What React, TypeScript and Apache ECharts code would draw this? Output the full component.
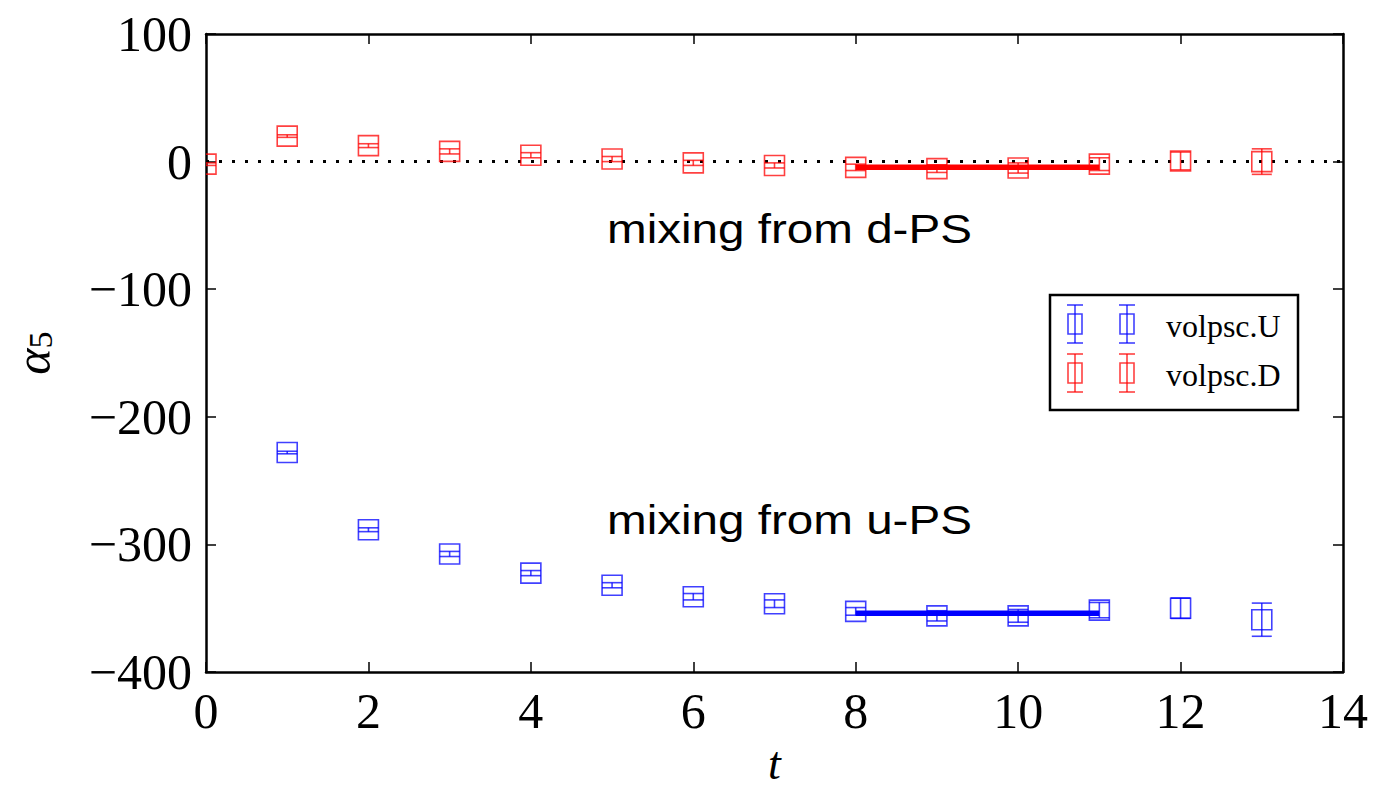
import React, { useEffect, useRef } from "react";
import * as echarts from "echarts";

const tValuesD = [0, 1, 2, 3, 4, 5, 6, 7, 8, 9, 10, 11, 12, 13];
const alphaD = [-2, 20, 12.5, 8, 5, 2, -1, -3, -4.5, -5.5, -5, -2, 0.5, 0];
const errD = [1, 1, 1.5, 2, 2, 2, 2, 2, 2.5, 3, 4, 5, 7, 10];

const tValuesU = [1, 2, 3, 4, 5, 6, 7, 8, 9, 10, 11, 12, 13];
const alphaU = [-228, -288.5, -307.5, -322.5, -332, -341, -346.5, -352.5, -356, -356, -351.5, -350, -359];
const errU = [1, 1.5, 2, 2, 2, 2.5, 3, 3, 4, 5, 6, 8, 13];

const fitRange = [8, 11];
const fitD = -4.5;
const fitU = -354;

const xTicks = { min: 0, max: 14, interval: 2 };
const yTicks = { min: -400, max: 100, interval: 100 };

const legendNames = ["volpsc.U", "volpsc.D"];
const annotations = ["mixing from d-PS", "mixing from u-PS"];

const BLUE = "#0000ff";
const RED = "#ff0000";
const SERIF = "'Liberation Serif', 'DejaVu Serif', serif";
const SANS = "'Liberation Sans', Arial, sans-serif";

function errSeries(name: string, xs: number[], ys: number[], es: number[], color: string) {
  return {
    type: "custom",
    name,
    clip: true,
    z: 3,
    data: xs.map((x, i) => [x, ys[i], es[i]]),
    renderItem: (params: any, api: any) => {
      const x = api.value(0);
      const y = api.value(1);
      const e = api.value(2);
      const c = api.coord([x, y]);
      const top = api.coord([x, y + e]);
      const bot = api.coord([x, y - e]);
      const hw = 10;
      const style = { stroke: color, lineWidth: 1.6, fill: "none", opacity: 0.75 };
      return {
        type: "group",
        children: [
          { type: "rect", shape: { x: c[0] - hw, y: c[1] - hw, width: 2 * hw, height: 2 * hw }, style },
          { type: "line", shape: { x1: c[0], y1: top[1], x2: c[0], y2: bot[1] }, style },
          { type: "line", shape: { x1: c[0] - hw, y1: top[1], x2: c[0] + hw, y2: top[1] }, style },
          { type: "line", shape: { x1: c[0] - hw, y1: bot[1], x2: c[0] + hw, y2: bot[1] }, style },
        ],
      };
    },
  };
}

function legendMarker(cx: number, cy: number, color: string) {
  const style = { stroke: color, lineWidth: 1.6, fill: "none", opacity: 0.75 };
  return {
    type: "group",
    children: [
      { type: "rect", shape: { x: cx - 7, y: cy - 10, width: 14, height: 20 }, style },
      { type: "line", shape: { x1: cx, y1: cy - 19, x2: cx, y2: cy + 19 }, style },
      { type: "line", shape: { x1: cx - 8, y1: cy - 19, x2: cx + 8, y2: cy - 19 }, style },
      { type: "line", shape: { x1: cx - 8, y1: cy + 19, x2: cx + 8, y2: cy + 19 }, style },
    ],
  };
}

const fmtMinus = (v: number) => String(v).replace("-", "\u2212");

export default function App() {
  const ref = useRef<HTMLDivElement>(null);
  useEffect(() => {
    if (!ref.current) return;
    const chart = echarts.init(ref.current, null, { renderer: "svg" });
    const axisLine = { show: true, lineStyle: { color: "#000", width: 2.5 } };
    const axisTick = { show: true, inside: true, length: 10, lineStyle: { color: "#000", width: 1.5 } };
    const option: any = {
      animation: false,
      backgroundColor: "#fff",
      grid: { left: 206, right: 30, top: 34, bottom: 117, containLabel: false, outerBoundsMode: "none" },
      xAxis: [
        {
          type: "value",
          ...xTicks,
          axisLine: { ...axisLine, onZero: false },
          axisTick,
          splitLine: { show: false },
          axisLabel: { fontFamily: SERIF, fontSize: 50, color: "#000", margin: 14 },
          name: "t",
          nameLocation: "middle",
          nameGap: 70,
          nameTextStyle: { fontFamily: SERIF, fontStyle: "italic", fontSize: 46, lineHeight: 40, color: "#000" },
        },
        {
          type: "value",
          position: "top",
          ...xTicks,
          axisLine: { ...axisLine, onZero: false },
          axisTick,
          splitLine: { show: false },
          axisLabel: { show: false },
        },
      ],
      yAxis: [
        {
          type: "value",
          ...yTicks,
          axisLine: { ...axisLine, onZero: false },
          axisTick,
          splitLine: { show: false },
          axisLabel: { fontFamily: SERIF, fontSize: 50, color: "#000", margin: 14, formatter: fmtMinus },
          name: "{a|α}{b|5}",
          nameLocation: "middle",
          nameGap: 154,
          nameRotate: 90,
          nameTextStyle: {
            rich: {
              a: { fontFamily: SERIF, fontStyle: "italic", fontSize: 50, lineHeight: 38, color: "#000" },
              b: { fontFamily: SERIF, fontSize: 34, lineHeight: 22, color: "#000", padding: [14, 0, 0, 0] },
            },
          },
        },
        {
          type: "value",
          position: "right",
          ...yTicks,
          axisLine: { ...axisLine, onZero: false },
          axisTick,
          splitLine: { show: false },
          axisLabel: { show: false },
        },
      ],
      series: [
        {
          type: "line",
          data: [[xTicks.min, 0], [xTicks.max, 0]],
          symbol: "none",
          z: 2,
          lineStyle: { color: "#000", width: 3, type: [3, 10] },
        },
        errSeries(legendNames[0], tValuesU, alphaU, errU, BLUE),
        errSeries(legendNames[1], tValuesD, alphaD, errD, RED),
        {
          type: "line",
          data: [[fitRange[0], fitD], [fitRange[1], fitD]],
          symbol: "none",
          z: 4,
          lineStyle: { color: RED, width: 5.5 },
        },
        {
          type: "line",
          data: [[fitRange[0], fitU], [fitRange[1], fitU]],
          symbol: "none",
          z: 4,
          lineStyle: { color: BLUE, width: 5.5 },
        },
      ],
      graphic: [
        {
          type: "text",
          x: 607,
          y: 229,
          scaleX: 1.19,
          style: { text: annotations[0], font: `40px ${SANS}`, fill: "#000", textVerticalAlign: "middle" },
        },
        {
          type: "text",
          x: 607,
          y: 520,
          scaleX: 1.19,
          style: { text: annotations[1], font: `40px ${SANS}`, fill: "#000", textVerticalAlign: "middle" },
        },
        {
          type: "group",
          children: [
            { type: "rect", shape: { x: 1050, y: 295, width: 248, height: 115 }, style: { fill: "#fff", stroke: "#000", lineWidth: 2.5 } },
            legendMarker(1075, 324, BLUE),
            legendMarker(1127, 324, BLUE),
            legendMarker(1075, 373, RED),
            legendMarker(1127, 373, RED),
            { type: "text", x: 1166, y: 326, style: { text: legendNames[0], font: `32px ${SERIF}`, fill: "#000", textVerticalAlign: "middle" } },
            { type: "text", x: 1166, y: 375, style: { text: legendNames[1], font: `32px ${SERIF}`, fill: "#000", textVerticalAlign: "middle" } },
          ],
        },
      ],
    };
    chart.setOption(option);
    return () => chart.dispose();
  }, []);
  return <div ref={ref} style={{ width: 1373, height: 789, position: "absolute", left: 0, top: 0 }} />;
}
